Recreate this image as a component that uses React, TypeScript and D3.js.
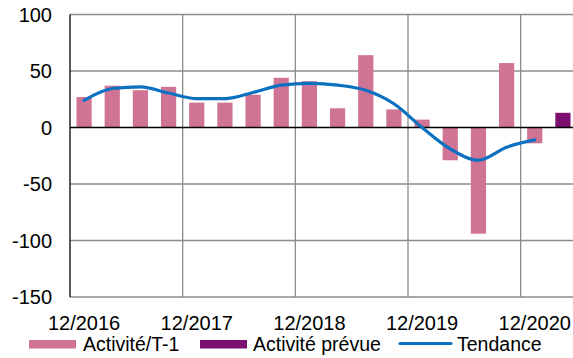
import React from "react";
import * as d3 from "d3";

const categories = [
  "2016Q4","2017Q1","2017Q2","2017Q3","2017Q4","2018Q1","2018Q2","2018Q3",
  "2018Q4","2019Q1","2019Q2","2019Q3","2019Q4","2020Q1","2020Q2","2020Q3",
  "2020Q4","2021Q1",
];
const activite: (number | null)[] = [27, 37, 33, 36, 22, 22, 29, 44, 41, 17, 64, 16, 7, -29, -94, 57, -14, null];
const prevue: (number | null)[] = [null, null, null, null, null, null, null, null, null, null, null, null, null, null, null, null, null, 13];
const tendance: (number | null)[] = [24, 34.5, 36, 30.5, 25.5, 25.5, 31, 37.5, 39, 37.5, 33, 21, 0, -19, -29, -17.5, -11, null];
const xLabels = [
  { cat: "2016Q4", text: "12/2016" },
  { cat: "2017Q4", text: "12/2017" },
  { cat: "2018Q4", text: "12/2018" },
  { cat: "2019Q4", text: "12/2019" },
  { cat: "2020Q4", text: "12/2020" },
];
const yTicks = [100, 50, 0, -50, -100, -150];
const gridBoundaries = ["2017Q4", "2018Q4", "2019Q4", "2020Q4"];

export default function App() {
  const W = 573, H = 358;
  const left = 70, right = 577, top = 14.5, bottom = 297;
  const x = d3.scaleBand<string>().domain(categories).range([left, right]).paddingInner(0.46).paddingOuter(0.23);
  const xb = d3.scaleBand<string>().domain(categories).range([left, right]);
  const y = d3.scaleLinear().domain([-150, 100]).range([bottom, top]);
  const font = "'Liberation Sans', Arial, sans-serif";
  const pts = categories.map((c, i) => ({ c, v: tendance[i] })).filter(d => d.v !== null) as { c: string; v: number }[];
  const line = d3.line<{ c: string; v: number }>()
    .x(d => (xb(d.c) as number) + xb.bandwidth() / 2)
    .y(d => y(d.v))
    .curve(d3.curveMonotoneX);
  const grid = "#8c8c8c";
  const pink = "#d07496";
  const purple = "#7b1071";
  const blue = "#0a70c0";
  return (
    <svg width={W} height={H} style={{ position: "absolute", left: 0, top: 0, background: "#fff" }}>
      {yTicks.filter(t => t !== 0).map(t => (
        <line key={t} x1={left} x2={W} y1={y(t)} y2={y(t)} stroke={grid} strokeWidth={1.3} />
      ))}
      {gridBoundaries.map(c => (
        <line key={c} x1={xb(c) as number} x2={xb(c) as number} y1={top} y2={bottom} stroke={grid} strokeWidth={1.3} />
      ))}
      {categories.map((c, i) => activite[i] === null ? null : (
        <rect key={c} x={x(c)} width={x.bandwidth()} y={y(Math.max(0, activite[i] as number))}
          height={Math.abs(y(activite[i] as number) - y(0))} fill={pink} />
      ))}
      {categories.map((c, i) => prevue[i] === null ? null : (
        <rect key={"p" + c} x={x(c)} width={x.bandwidth()} y={y(Math.max(0, prevue[i] as number))}
          height={Math.abs(y(prevue[i] as number) - y(0))} fill={purple} />
      ))}
      <line x1={left} x2={W} y1={y(0)} y2={y(0)} stroke="#000" strokeWidth={1.3} />
      <line x1={left} x2={left} y1={top} y2={bottom} stroke="#000" strokeWidth={1.3} />
      <path d={line(pts) as string} fill="none" stroke={blue} strokeWidth={3.2} strokeLinecap="round" strokeLinejoin="round" />
      {yTicks.map(t => (
        <text key={t} x={52} y={y(t) + 7} textAnchor="end" fontFamily={font} fontSize={20} fill="#000">{t}</text>
      ))}
      {xLabels.map(l => (
        <text key={l.text} x={(x(l.cat) as number) + x.bandwidth() / 2} y={329.5} textAnchor="middle" fontFamily={font} fontSize={20} fill="#000">{l.text}</text>
      ))}
      <rect x={29} y={340} width={47} height={8.5} fill={pink} />
      <text x={83} y={351} fontFamily={font} fontSize={19.5} fill="#000">Activité/T-1</text>
      <rect x={200} y={340} width={47} height={8.5} fill={purple} />
      <text x={253} y={351} fontFamily={font} fontSize={19.5} fill="#000">Activité prévue</text>
      <line x1={400} x2={451} y1={343.5} y2={343.5} stroke={blue} strokeWidth={3.2} strokeLinecap="round" />
      <text x={457} y={351} fontFamily={font} fontSize={19.5} fill="#000">Tendance</text>
    </svg>
  );
}
